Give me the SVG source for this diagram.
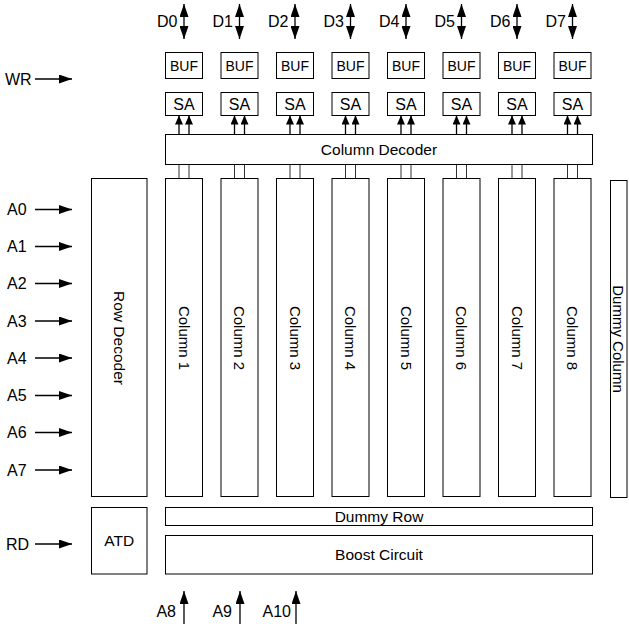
<svg xmlns="http://www.w3.org/2000/svg" width="629" height="624" viewBox="0 0 629 624">
<defs>
<style>
.b{fill:#fff;stroke:#000;stroke-width:1}
.t{font-family:"Liberation Sans",Arial,sans-serif;fill:#000}
.m{text-anchor:middle}
.l{stroke:#000;stroke-width:1.3;fill:none}
.w{stroke:#333;stroke-width:1;fill:none}
</style>
<marker id="ah" viewBox="0 0 13 9" refX="13" refY="4.5" markerWidth="13" markerHeight="9" markerUnits="userSpaceOnUse" orient="auto-start-reverse"><path d="M0,0 L13,4.5 L0,9 z" fill="#000"/></marker>
<marker id="as" viewBox="0 0 9 8" refX="9" refY="4" markerWidth="9" markerHeight="8" markerUnits="userSpaceOnUse" orient="auto"><path d="M0,0 L9,4 L0,8 z" fill="#000"/></marker>
</defs>

<g id="connectors">
<!-- WR -->
<line class="l" x1="35" y1="79" x2="72" y2="79" marker-end="url(#ah)"/>
<!-- A0-A7 -->
<line class="l" x1="35" y1="209.5" x2="72" y2="209.5" marker-end="url(#ah)"/>
<line class="l" x1="35" y1="246.5" x2="72" y2="246.5" marker-end="url(#ah)"/>
<line class="l" x1="35" y1="283.5" x2="72" y2="283.5" marker-end="url(#ah)"/>
<line class="l" x1="35" y1="321" x2="72" y2="321" marker-end="url(#ah)"/>
<line class="l" x1="35" y1="358" x2="72" y2="358" marker-end="url(#ah)"/>
<line class="l" x1="35" y1="395.5" x2="72" y2="395.5" marker-end="url(#ah)"/>
<line class="l" x1="35" y1="432.5" x2="72" y2="432.5" marker-end="url(#ah)"/>
<line class="l" x1="35" y1="470" x2="72" y2="470" marker-end="url(#ah)"/>
<!-- RD -->
<line class="l" x1="35" y1="544" x2="72" y2="544" marker-end="url(#ah)"/>
<!-- A8-A10 -->
<line class="l" x1="184" y1="624" x2="184" y2="591" marker-end="url(#ah)"/>
<line class="l" x1="240" y1="624" x2="240" y2="591" marker-end="url(#ah)"/>
<line class="l" x1="296" y1="624" x2="296" y2="591" marker-end="url(#ah)"/>
<!-- D bidirectional -->
<line class="l" x1="184" y1="4" x2="184" y2="39" marker-start="url(#ah)" marker-end="url(#ah)"/>
<line class="l" x1="239.5" y1="4" x2="239.5" y2="39" marker-start="url(#ah)" marker-end="url(#ah)"/>
<line class="l" x1="295" y1="4" x2="295" y2="39" marker-start="url(#ah)" marker-end="url(#ah)"/>
<line class="l" x1="350.5" y1="4" x2="350.5" y2="39" marker-start="url(#ah)" marker-end="url(#ah)"/>
<line class="l" x1="406" y1="4" x2="406" y2="39" marker-start="url(#ah)" marker-end="url(#ah)"/>
<line class="l" x1="461.5" y1="4" x2="461.5" y2="39" marker-start="url(#ah)" marker-end="url(#ah)"/>
<line class="l" x1="517" y1="4" x2="517" y2="39" marker-start="url(#ah)" marker-end="url(#ah)"/>
<line class="l" x1="572.5" y1="4" x2="572.5" y2="39" marker-start="url(#ah)" marker-end="url(#ah)"/>
<!-- decoder to SA arrows -->
<g>
<line class="l" x1="179" y1="134.5" x2="179" y2="115.5" marker-end="url(#as)"/><line class="l" x1="189" y1="134.5" x2="189" y2="115.5" marker-end="url(#as)"/>
<line class="l" x1="234.5" y1="134.5" x2="234.5" y2="115.5" marker-end="url(#as)"/><line class="l" x1="244.5" y1="134.5" x2="244.5" y2="115.5" marker-end="url(#as)"/>
<line class="l" x1="290" y1="134.5" x2="290" y2="115.5" marker-end="url(#as)"/><line class="l" x1="300" y1="134.5" x2="300" y2="115.5" marker-end="url(#as)"/>
<line class="l" x1="345.5" y1="134.5" x2="345.5" y2="115.5" marker-end="url(#as)"/><line class="l" x1="355.5" y1="134.5" x2="355.5" y2="115.5" marker-end="url(#as)"/>
<line class="l" x1="401" y1="134.5" x2="401" y2="115.5" marker-end="url(#as)"/><line class="l" x1="411" y1="134.5" x2="411" y2="115.5" marker-end="url(#as)"/>
<line class="l" x1="456.5" y1="134.5" x2="456.5" y2="115.5" marker-end="url(#as)"/><line class="l" x1="466.5" y1="134.5" x2="466.5" y2="115.5" marker-end="url(#as)"/>
<line class="l" x1="512" y1="134.5" x2="512" y2="115.5" marker-end="url(#as)"/><line class="l" x1="522" y1="134.5" x2="522" y2="115.5" marker-end="url(#as)"/>
<line class="l" x1="567.5" y1="134.5" x2="567.5" y2="115.5" marker-end="url(#as)"/><line class="l" x1="577.5" y1="134.5" x2="577.5" y2="115.5" marker-end="url(#as)"/>
</g>
<!-- column to decoder bus lines -->
<g>
<line class="w" x1="179" y1="164.5" x2="179" y2="178.5"/><line class="w" x1="189" y1="164.5" x2="189" y2="178.5"/>
<line class="w" x1="234.5" y1="164.5" x2="234.5" y2="178.5"/><line class="w" x1="244.5" y1="164.5" x2="244.5" y2="178.5"/>
<line class="w" x1="290" y1="164.5" x2="290" y2="178.5"/><line class="w" x1="300" y1="164.5" x2="300" y2="178.5"/>
<line class="w" x1="345.5" y1="164.5" x2="345.5" y2="178.5"/><line class="w" x1="355.5" y1="164.5" x2="355.5" y2="178.5"/>
<line class="w" x1="401" y1="164.5" x2="401" y2="178.5"/><line class="w" x1="411" y1="164.5" x2="411" y2="178.5"/>
<line class="w" x1="456.5" y1="164.5" x2="456.5" y2="178.5"/><line class="w" x1="466.5" y1="164.5" x2="466.5" y2="178.5"/>
<line class="w" x1="512" y1="164.5" x2="512" y2="178.5"/><line class="w" x1="522" y1="164.5" x2="522" y2="178.5"/>
<line class="w" x1="567.5" y1="164.5" x2="567.5" y2="178.5"/><line class="w" x1="577.5" y1="164.5" x2="577.5" y2="178.5"/>
</g>
</g>

<g id="labels" class="t" font-size="16">
<text x="5" y="85">WR</text>
<text x="7" y="215">A0</text>
<text x="7" y="252">A1</text>
<text x="7" y="289">A2</text>
<text x="7" y="326.5">A3</text>
<text x="7" y="363.5">A4</text>
<text x="7" y="401">A5</text>
<text x="7" y="438">A6</text>
<text x="7" y="475.5">A7</text>
<text x="6" y="549.5">RD</text>
<text x="176" y="617" text-anchor="end">A8</text>
<text x="232" y="617" text-anchor="end">A9</text>
<text x="291" y="617" text-anchor="end">A10</text>
<text x="177.5" y="27" text-anchor="end">D0</text>
<text x="233" y="27" text-anchor="end">D1</text>
<text x="288.5" y="27" text-anchor="end">D2</text>
<text x="344" y="27" text-anchor="end">D3</text>
<text x="399.5" y="27" text-anchor="end">D4</text>
<text x="455" y="27" text-anchor="end">D5</text>
<text x="510.5" y="27" text-anchor="end">D6</text>
<text x="566" y="27" text-anchor="end">D7</text>
</g>

<g id="buf0"><rect class="b" x="165.5" y="52.5" width="37" height="26"/><text class="t m" x="184" y="70.5" font-size="14">BUF</text></g>
<g id="buf1"><rect class="b" x="221" y="52.5" width="37" height="26"/><text class="t m" x="239.5" y="70.5" font-size="14">BUF</text></g>
<g id="buf2"><rect class="b" x="276.5" y="52.5" width="37" height="26"/><text class="t m" x="295" y="70.5" font-size="14">BUF</text></g>
<g id="buf3"><rect class="b" x="332" y="52.5" width="37" height="26"/><text class="t m" x="350.5" y="70.5" font-size="14">BUF</text></g>
<g id="buf4"><rect class="b" x="387.5" y="52.5" width="37" height="26"/><text class="t m" x="406" y="70.5" font-size="14">BUF</text></g>
<g id="buf5"><rect class="b" x="443" y="52.5" width="37" height="26"/><text class="t m" x="461.5" y="70.5" font-size="14">BUF</text></g>
<g id="buf6"><rect class="b" x="498.5" y="52.5" width="37" height="26"/><text class="t m" x="517" y="70.5" font-size="14">BUF</text></g>
<g id="buf7"><rect class="b" x="554" y="52.5" width="37" height="26"/><text class="t m" x="572.5" y="70.5" font-size="14">BUF</text></g>

<g id="sa0"><rect class="b" x="165.5" y="92.5" width="37" height="23"/><text class="t m" x="184" y="110" font-size="16">SA</text></g>
<g id="sa1"><rect class="b" x="221" y="92.5" width="37" height="23"/><text class="t m" x="239.5" y="110" font-size="16">SA</text></g>
<g id="sa2"><rect class="b" x="276.5" y="92.5" width="37" height="23"/><text class="t m" x="295" y="110" font-size="16">SA</text></g>
<g id="sa3"><rect class="b" x="332" y="92.5" width="37" height="23"/><text class="t m" x="350.5" y="110" font-size="16">SA</text></g>
<g id="sa4"><rect class="b" x="387.5" y="92.5" width="37" height="23"/><text class="t m" x="406" y="110" font-size="16">SA</text></g>
<g id="sa5"><rect class="b" x="443" y="92.5" width="37" height="23"/><text class="t m" x="461.5" y="110" font-size="16">SA</text></g>
<g id="sa6"><rect class="b" x="498.5" y="92.5" width="37" height="23"/><text class="t m" x="517" y="110" font-size="16">SA</text></g>
<g id="sa7"><rect class="b" x="554" y="92.5" width="37" height="23"/><text class="t m" x="572.5" y="110" font-size="16">SA</text></g>

<g id="column-decoder"><rect class="b" x="165.5" y="134.5" width="427" height="30"/><text class="t m" x="379" y="155" font-size="15.5">Column Decoder</text></g>

<g id="row-decoder"><rect class="b" x="91.5" y="178.5" width="55.5" height="318"/><text class="t m" font-size="15.5" transform="translate(119.25,338) rotate(90)" y="5.5">Row Decoder</text></g>

<g id="col1"><rect class="b" x="165.5" y="178.5" width="37" height="318"/><text class="t m" font-size="15" transform="translate(184,338) rotate(90)" y="5.5">Column 1</text></g>
<g id="col2"><rect class="b" x="221" y="178.5" width="37" height="318"/><text class="t m" font-size="15" transform="translate(239.5,338) rotate(90)" y="5.5">Column 2</text></g>
<g id="col3"><rect class="b" x="276.5" y="178.5" width="37" height="318"/><text class="t m" font-size="15" transform="translate(295,338) rotate(90)" y="5.5">Column 3</text></g>
<g id="col4"><rect class="b" x="332" y="178.5" width="37" height="318"/><text class="t m" font-size="15" transform="translate(350.5,338) rotate(90)" y="5.5">Column 4</text></g>
<g id="col5"><rect class="b" x="387.5" y="178.5" width="37" height="318"/><text class="t m" font-size="15" transform="translate(406,338) rotate(90)" y="5.5">Column 5</text></g>
<g id="col6"><rect class="b" x="443" y="178.5" width="37" height="318"/><text class="t m" font-size="15" transform="translate(461.5,338) rotate(90)" y="5.5">Column 6</text></g>
<g id="col7"><rect class="b" x="498.5" y="178.5" width="37" height="318"/><text class="t m" font-size="15" transform="translate(517,338) rotate(90)" y="5.5">Column 7</text></g>
<g id="col8"><rect class="b" x="554" y="178.5" width="37" height="318"/><text class="t m" font-size="15" transform="translate(572.5,338) rotate(90)" y="5.5">Column 8</text></g>

<g id="dummy-column"><rect class="b" x="610.5" y="180.5" width="16.5" height="317"/><text class="t m" font-size="15" transform="translate(618.75,339) rotate(90)" y="5.5">Dummy Column</text></g>

<g id="atd"><rect class="b" x="91.5" y="507.5" width="55.5" height="66.5"/><text class="t m" x="119.25" y="546" font-size="15.5">ATD</text></g>
<g id="dummy-row"><rect class="b" x="165.5" y="507.5" width="427" height="18"/><text class="t m" x="379" y="522" font-size="15.5">Dummy Row</text></g>
<g id="boost-circuit"><rect class="b" x="165.5" y="535.5" width="427" height="38.5"/><text class="t m" x="379" y="560" font-size="15.5">Boost Circuit</text></g>
</svg>
